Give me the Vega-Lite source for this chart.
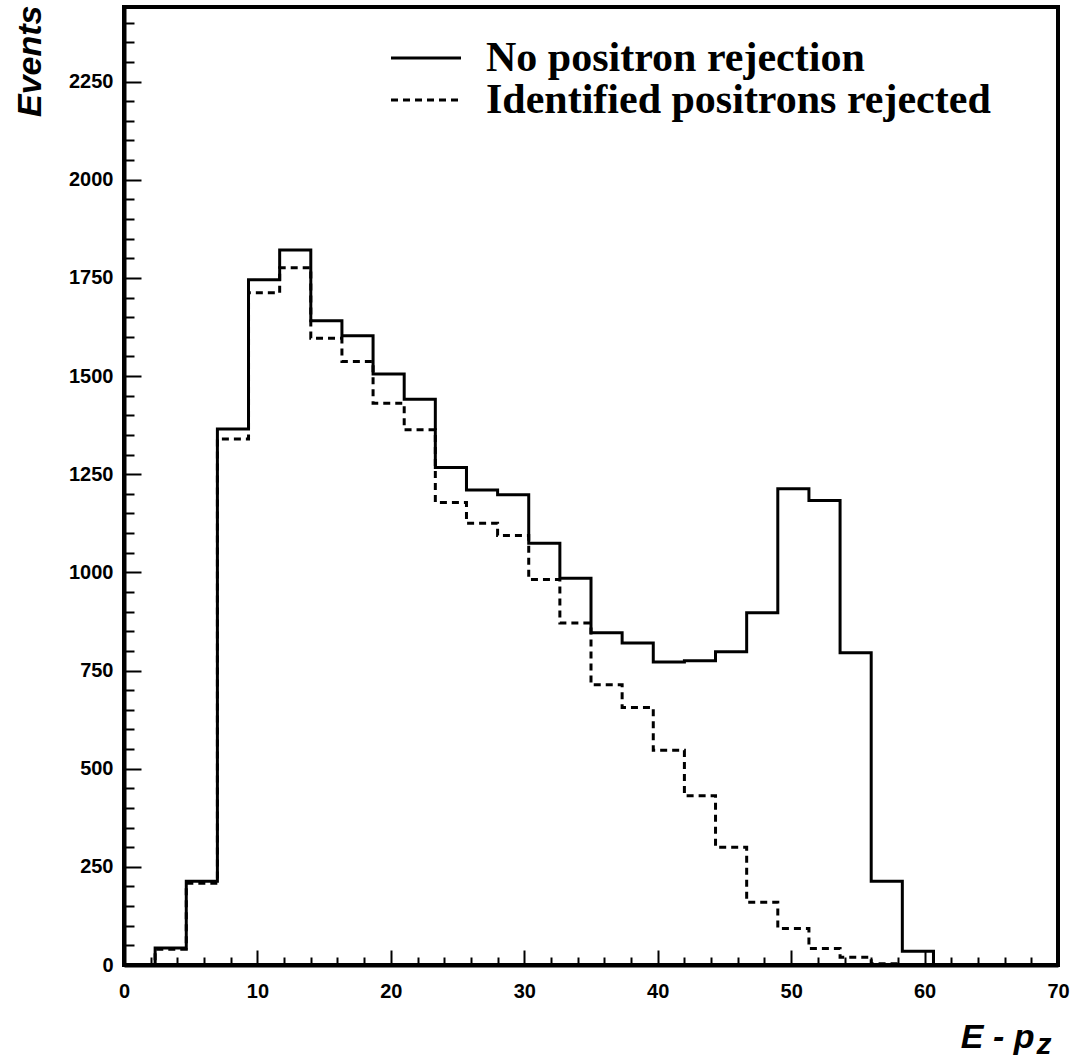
{
  "$schema": "https://vega.github.io/schema/vega-lite/v6.json",
  "width": 934,
  "height": 958,
  "autosize": "none",
  "padding": {"left": 124, "top": 7, "right": 22, "bottom": 94},
  "background": "white",
  "config": {
    "view": {"stroke": "black", "strokeWidth": 4},
    "axis": {
      "grid": false,
      "domainColor": "black",
      "domainWidth": 3,
      "tickColor": "black",
      "tickWidth": 2,
      "labelColor": "black",
      "labelFont": "Liberation Sans",
      "labelFontWeight": "bold",
      "labelFontSize": 20,
      "labelOverlap": false,
      "labelFlush": false,
      "titleColor": "black",
      "titleFont": "Liberation Sans",
      "titleFontWeight": "bold",
      "titleFontStyle": "italic"
    }
  },
  "data": {
    "values": [
      {"x": 0, "n": 0, "series": "No positron rejection"},
      {"x": 2.333, "n": 43, "series": "No positron rejection"},
      {"x": 4.667, "n": 213, "series": "No positron rejection"},
      {"x": 7, "n": 1365, "series": "No positron rejection"},
      {"x": 9.333, "n": 1745, "series": "No positron rejection"},
      {"x": 11.667, "n": 1821, "series": "No positron rejection"},
      {"x": 14, "n": 1641, "series": "No positron rejection"},
      {"x": 16.333, "n": 1603, "series": "No positron rejection"},
      {"x": 18.667, "n": 1505, "series": "No positron rejection"},
      {"x": 21, "n": 1441, "series": "No positron rejection"},
      {"x": 23.333, "n": 1267, "series": "No positron rejection"},
      {"x": 25.667, "n": 1210, "series": "No positron rejection"},
      {"x": 28, "n": 1198, "series": "No positron rejection"},
      {"x": 30.333, "n": 1074, "series": "No positron rejection"},
      {"x": 32.667, "n": 985, "series": "No positron rejection"},
      {"x": 35, "n": 846, "series": "No positron rejection"},
      {"x": 37.333, "n": 820, "series": "No positron rejection"},
      {"x": 39.667, "n": 772, "series": "No positron rejection"},
      {"x": 42, "n": 775, "series": "No positron rejection"},
      {"x": 44.333, "n": 798, "series": "No positron rejection"},
      {"x": 46.667, "n": 897, "series": "No positron rejection"},
      {"x": 49, "n": 1213, "series": "No positron rejection"},
      {"x": 51.333, "n": 1183, "series": "No positron rejection"},
      {"x": 53.667, "n": 795, "series": "No positron rejection"},
      {"x": 56, "n": 213, "series": "No positron rejection"},
      {"x": 58.333, "n": 35, "series": "No positron rejection"},
      {"x": 60.667, "n": 0, "series": "No positron rejection"},
      {"x": 63, "n": 0, "series": "No positron rejection"},
      {"x": 65.333, "n": 0, "series": "No positron rejection"},
      {"x": 67.667, "n": 0, "series": "No positron rejection"},
      {"x": 70, "n": 0, "series": "No positron rejection"},
      {"x": 0, "n": 0, "series": "Identified positrons rejected"},
      {"x": 2.333, "n": 40, "series": "Identified positrons rejected"},
      {"x": 4.667, "n": 208, "series": "Identified positrons rejected"},
      {"x": 7, "n": 1340, "series": "Identified positrons rejected"},
      {"x": 9.333, "n": 1712, "series": "Identified positrons rejected"},
      {"x": 11.667, "n": 1776, "series": "Identified positrons rejected"},
      {"x": 14, "n": 1596, "series": "Identified positrons rejected"},
      {"x": 16.333, "n": 1537, "series": "Identified positrons rejected"},
      {"x": 18.667, "n": 1431, "series": "Identified positrons rejected"},
      {"x": 21, "n": 1363, "series": "Identified positrons rejected"},
      {"x": 23.333, "n": 1178, "series": "Identified positrons rejected"},
      {"x": 25.667, "n": 1125, "series": "Identified positrons rejected"},
      {"x": 28, "n": 1094, "series": "Identified positrons rejected"},
      {"x": 30.333, "n": 982, "series": "Identified positrons rejected"},
      {"x": 32.667, "n": 871, "series": "Identified positrons rejected"},
      {"x": 35, "n": 714, "series": "Identified positrons rejected"},
      {"x": 37.333, "n": 656, "series": "Identified positrons rejected"},
      {"x": 39.667, "n": 547, "series": "Identified positrons rejected"},
      {"x": 42, "n": 431, "series": "Identified positrons rejected"},
      {"x": 44.333, "n": 300, "series": "Identified positrons rejected"},
      {"x": 46.667, "n": 160, "series": "Identified positrons rejected"},
      {"x": 49, "n": 93, "series": "Identified positrons rejected"},
      {"x": 51.333, "n": 42, "series": "Identified positrons rejected"},
      {"x": 53.667, "n": 20, "series": "Identified positrons rejected"},
      {"x": 56, "n": 3, "series": "Identified positrons rejected"},
      {"x": 58.333, "n": 0, "series": "Identified positrons rejected"},
      {"x": 60.667, "n": 0, "series": "Identified positrons rejected"},
      {"x": 63, "n": 0, "series": "Identified positrons rejected"},
      {"x": 65.333, "n": 0, "series": "Identified positrons rejected"},
      {"x": 67.667, "n": 0, "series": "Identified positrons rejected"},
      {"x": 70, "n": 0, "series": "Identified positrons rejected"}
    ]
  },
  "encoding": {
    "y": {
      "field": "n",
      "type": "quantitative",
      "scale": {"domain": [0, 2440], "nice": false},
      "axis": {
        "title": "Events",
        "titleFontSize": 34,
        "titleAngle": -90,
        "titleAlign": "right",
        "titleBaseline": "middle",
        "titleX": -94,
        "titleY": -2,
        "values": [0,50,100,150,200,250,300,350,400,450,500,550,600,650,700,750,800,850,900,950,1000,1050,1100,1150,1200,1250,1300,1350,1400,1450,1500,1550,1600,1650,1700,1750,1800,1850,1900,1950,2000,2050,2100,2150,2200,2250,2300,2350,2400],
        "format": "d",
        "labelExpr": "datum.value % 250 === 0 ? datum.label : ''",
        "tickSize": {"condition": {"test": "datum.value % 250 === 0", "value": -17}, "value": -10},
        "labelPadding": 28,
        "domainWidth": 4
      }
    },
    "strokeDash": {
      "field": "series",
      "type": "nominal",
      "scale": {"domain": ["No positron rejection", "Identified positrons rejected"], "range": [[1, 0], [7, 5]]},
      "legend": {
        "title": null,
        "orient": "none",
        "legendX": 281,
        "legendY": 30,
        "symbolType": "M-2.8,0H2.8",
        "symbolSize": 625,
        "symbolStrokeWidth": 3,
        "symbolStrokeColor": "black",
        "labelFont": "Liberation Serif",
        "labelFontWeight": "bold",
        "labelFontSize": 42,
        "labelColor": "black",
        "labelLimit": 0,
        "labelOffset": 39,
        "rowPadding": 0
      }
    }
  },
  "layer": [
    {
      "transform": [{"filter": "datum.series === 'No positron rejection'"}],
      "mark": {"type": "line", "interpolate": "step-after", "color": "black", "strokeWidth": 3},
      "encoding": {
        "x": {
          "field": "x",
          "type": "quantitative",
          "scale": {"domain": [0, 70], "nice": false},
          "axis": {
            "orient": "bottom",
            "title": "E - p",
            "titleFontSize": 34,
            "titleAlign": "right",
            "titleBaseline": "alphabetic",
            "titleX": 910,
            "titleY": 82,
            "values": [0,2,4,6,8,10,12,14,16,18,20,22,24,26,28,30,32,34,36,38,40,42,44,46,48,50,52,54,56,58,60,62,64,66,68,70],
            "labelExpr": "datum.value % 10 === 0 ? datum.label : ''",
            "tickSize": {"condition": {"test": "datum.value % 10 === 0", "value": -15}, "value": -8},
            "labelPadding": 31,
            "domainWidth": 4
          }
        }
      }
    },
    {
      "transform": [{"filter": "datum.series !== 'No positron rejection'"}],
      "mark": {"type": "line", "interpolate": "step-after", "color": "black", "strokeWidth": 3},
      "encoding": {
        "x": {
          "field": "x",
          "type": "quantitative",
          "axis": {
            "orient": "bottom",
            "title": "z",
            "titleFontSize": 30,
            "titleAlign": "left",
            "titleBaseline": "alphabetic",
            "titleX": 912,
            "titleY": 88,
            "domain": false,
            "ticks": false,
            "labels": false
          }
        }
      }
    }
  ],
  "resolve": {"axis": {"x": "independent"}}
}
